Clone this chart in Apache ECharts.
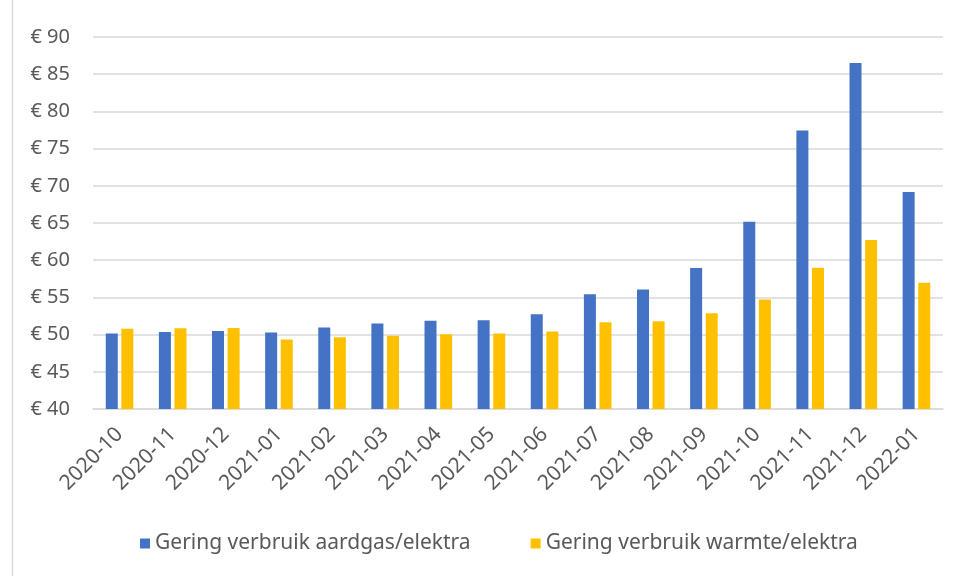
<!DOCTYPE html>
<html><head><meta charset="utf-8">
<script src="https://cdn.jsdelivr.net/npm/echarts@6/dist/echarts.min.js"></script>
<style>html,body{margin:0;padding:0;background:#fff}#c{width:957px;height:576px}</style>
</head><body><div id="c"></div>
<script>
const categories = ['2020-10','2020-11','2020-12','2021-01','2021-02','2021-03','2021-04','2021-05','2021-06','2021-07','2021-08','2021-09','2021-10','2021-11','2021-12','2022-01'];
const gasValues = [50.15,50.36,50.5,50.28,50.95,51.5,51.85,51.94,52.75,55.44,56.07,58.94,65.17,77.42,86.49,69.17];
const warmteValues = [50.77,50.86,50.9,49.34,49.65,49.83,50.05,50.15,50.42,51.67,51.8,52.88,54.72,58.98,62.7,56.96];
const seriesNames = ['Gering verbruik aardgas/elektra','Gering verbruik warmte/elektra'];
const yTicks = {min:40, max:90, interval:5};

const FONT = 'Noto Sans';
const chart = echarts.init(document.getElementById('c'));
chart.setOption({
  animation:false,
  textStyle:{fontFamily:FONT},
  graphic:[{type:'line',shape:{x1:12.5,y1:0,x2:12.5,y2:576},style:{stroke:'#D9D9D9',lineWidth:1.5}}],
  grid:{left:93,right:14,top:37,bottom:167,containLabel:false},
  legend:{bottom:17,left:135,itemWidth:10,itemHeight:10,itemGap:60,icon:'rect',
    textStyle:{fontSize:21,color:'#595959',fontFamily:FONT},data:seriesNames},
  xAxis:{type:'category',data:categories,
    axisLine:{lineStyle:{color:'#D9D9D9',width:1.5}},axisTick:{show:false},
    axisLabel:{rotate:45,fontSize:21,color:'#595959',margin:22,interval:0,fontFamily:FONT}},
  yAxis:{type:'value',min:yTicks.min,max:yTicks.max,interval:yTicks.interval,
    axisLine:{show:false},axisTick:{show:false},
    splitLine:{lineStyle:{color:'#D9D9D9',width:1.5}},
    axisLabel:{formatter:v=>'€ '+v,fontSize:20,color:'#595959',margin:23,fontFamily:FONT}},
  series:[
    {name:seriesNames[0],type:'bar',data:gasValues,barWidth:12,barGap:'30%',itemStyle:{color:'#4472C4'}},
    {name:seriesNames[1],type:'bar',data:warmteValues,barWidth:12,itemStyle:{color:'#FFC000'}}
  ]
});
</script></body></html>
